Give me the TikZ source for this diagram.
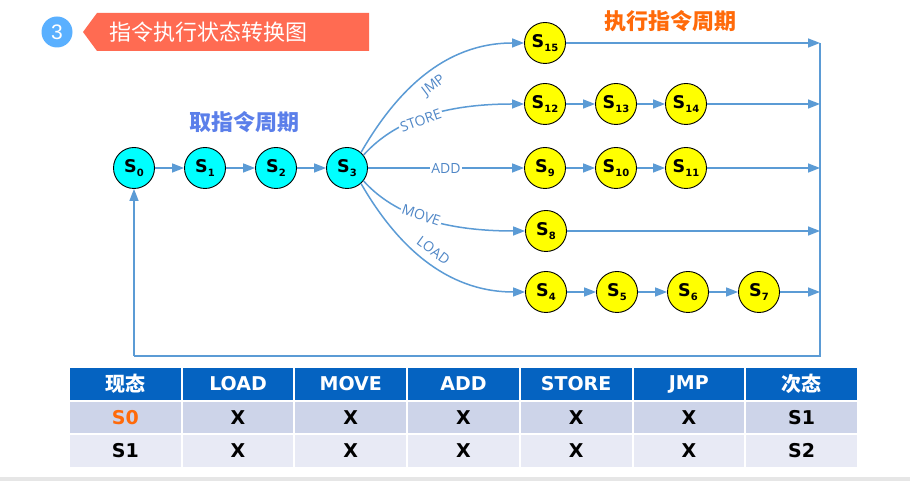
\documentclass[tikz,border=0pt]{standalone}
\usepackage{fontspec}
\usetikzlibrary{arrows.meta}
\newfontfamily\cjk{Noto Sans CJK SC}
\newfontfamily\dvs{DejaVu Sans}
\newfontfamily\osans{Open Sans}
\newfontfamily\lsans{Liberation Sans}
\definecolor{lineblue}{HTML}{5B9BD5}
\definecolor{labblue}{HTML}{4F86C6}
\definecolor{titlered}{HTML}{FF6B52}
\definecolor{numblue}{HTML}{5AB0FF}
\definecolor{cyclblue}{HTML}{5B7FEA}
\definecolor{execorange}{HTML}{FF6A0A}
\definecolor{hdrblue}{HTML}{0563C1}
\definecolor{rowa}{HTML}{CDD4E9}
\definecolor{rowb}{HTML}{E8EAF5}
\definecolor{bandgray}{HTML}{E6E6E6}
\definecolor{fetchcyan}{HTML}{00FFFF}
\definecolor{execyellow}{HTML}{FFFF00}
\newcommand{\stlab}[1]{S\raisebox{-4pt}{\fontsize{10}{10}\selectfont #1}}
\begin{document}
\begin{tikzpicture}[x=1pt,y=1pt,
  arr/.style={draw=lineblue, line width=1.5pt, -{Triangle[length=12pt,width=9pt]}},
  ln/.style={draw=lineblue, line width=1.5pt},
  snode/.style={circle, draw=black, line width=0.9pt, minimum size=41pt, inner sep=0pt,
    font=\dvs\bfseries\fontsize{17.5}{17.5}\selectfont},
  cy/.style={snode, fill=fetchcyan},
  yl/.style={snode, fill=execyellow},
  elab/.style={font=\osans\fontsize{14}{14}\selectfont, text=labblue, inner sep=1.5pt},
  cell/.style={rectangle, draw=white, line width=2pt, minimum width=112.7pt, inner sep=0pt},
  hcell/.style={cell, fill=hdrblue, minimum height=34pt, text=white},
  acell/.style={cell, fill=rowa, minimum height=33pt},
  bcell/.style={cell, fill=rowb, minimum height=34pt},
  latin/.style={font=\dvs\bfseries\fontsize{19}{19}\selectfont},
  han/.style={font=\cjk\bfseries\fontsize{20}{20}\selectfont}]
\useasboundingbox (0,0) rectangle (910,481);
\fill[white] (0,0) rectangle (910,481);
\fill[bandgray] (0,0) rectangle (910,4);

% title
\node[circle, fill=numblue, minimum size=31pt, inner sep=0pt, text=white,
  font=\lsans\fontsize{21}{21}\selectfont] (num) at (57,449) {3};
\fill[titlered] (83,449) -- (97,468) -- (369,468) -- (369,430) -- (97,430) -- cycle;
\node[anchor=west, text=white, inner sep=0pt, font=\cjk\fontsize{22}{22}\selectfont] (title) at (109,449) {指令执行状态转换图};

\node[text=cyclblue, font=\cjk\bfseries\fontsize{22}{22}\selectfont] (fetch) at (244,359) {取指令周期};
\node[text=execorange, font=\cjk\bfseries\fontsize{22}{22}\selectfont] (exec) at (670,460) {执行指令周期};

% states
\node[cy] (S0) at (134,313) {\stlab{0}};
\node[cy] (S1) at (205,313) {\stlab{1}};
\node[cy] (S2) at (276,313) {\stlab{2}};
\node[cy] (S3) at (347,313) {\stlab{3}};
\node[yl] (S15) at (545,438) {\stlab{15}};
\node[yl] (S12) at (545,377) {\stlab{12}};
\node[yl] (S13) at (616,377) {\stlab{13}};
\node[yl] (S14) at (686,377) {\stlab{14}};
\node[yl] (S9) at (545,313) {\stlab{9}};
\node[yl] (S10) at (616,313) {\stlab{10}};
\node[yl] (S11) at (686,313) {\stlab{11}};
\node[yl] (S8) at (546,250) {\stlab{8}};
\node[yl] (S4) at (546,189) {\stlab{4}};
\node[yl] (S5) at (617,189) {\stlab{5}};
\node[yl] (S6) at (688,189) {\stlab{6}};
\node[yl] (S7) at (759,189) {\stlab{7}};

\coordinate (r15) at (820,438);
\coordinate (r12) at (820,377);
\coordinate (r9) at (820,313);
\coordinate (r8) at (820,250);
\coordinate (r4) at (820,189);
\coordinate (rb) at (820,125);
\coordinate (lb) at (134,125);

% fetch chain
\draw[arr] (S0) -- (S1);
\draw[arr] (S1) -- (S2);
\draw[arr] (S2) -- (S3);

% branches
\draw[arr] (S3.48) .. controls +(60:70) and +(-80,0) .. (S15.west)
  node[elab, sloped, below, pos=0.5, yshift=-5pt] {JMP};
\draw[arr] (S3.38) .. controls +(48:40) and +(-90,0) .. (S12.west)
  node[elab, sloped, fill=white, pos=0.5, yshift=-2pt] {STORE};
\draw[arr] (S3) -- node[elab, fill=white] {ADD} (S9);
\draw[arr] (S3.-38) .. controls +(-48:40) and +(-90,0) .. (S8.west)
  node[elab, sloped, fill=white, pos=0.5, yshift=2pt] {MOVE};
\draw[arr] (S3.-48) .. controls +(-60:70) and +(-80,0) .. (S4.west)
  node[elab, sloped, above, pos=0.5, yshift=5pt] {LOAD};

% exec chains
\draw[arr] (S15) -- (r15);
\draw[arr] (S12) -- (S13);
\draw[arr] (S13) -- (S14);
\draw[arr] (S14) -- (r12);
\draw[arr] (S9) -- (S10);
\draw[arr] (S10) -- (S11);
\draw[arr] (S11) -- (r9);
\draw[arr] (S8) -- (r8);
\draw[arr] (S4) -- (S5);
\draw[arr] (S5) -- (S6);
\draw[arr] (S6) -- (S7);
\draw[arr] (S7) -- (r4);

% return path
\draw[ln] (r15) -- (rb) -- (lb);
\draw[arr] (lb) -- (S0);

% table
\node[hcell, han] (h1) at (125.35,97) {现态};
\node[hcell, latin] (h2) at (238.05,97) {LOAD};
\node[hcell, latin] (h3) at (350.75,97) {MOVE};
\node[hcell, latin] (h4) at (463.45,97) {ADD};
\node[hcell, latin] (h5) at (576.15,97) {STORE};
\node[hcell, latin] (h6) at (688.85,97) {JMP};
\node[hcell, han] (h7) at (801.55,97) {次态};

\node[acell, latin, text=execorange] (a1) at (125.35,63.5) {S0};
\node[acell, latin] (a2) at (238.05,63.5) {X};
\node[acell, latin] (a3) at (350.75,63.5) {X};
\node[acell, latin] (a4) at (463.45,63.5) {X};
\node[acell, latin] (a5) at (576.15,63.5) {X};
\node[acell, latin] (a6) at (688.85,63.5) {X};
\node[acell, latin] (a7) at (801.55,63.5) {S1};

\node[bcell, latin] (b1) at (125.35,30) {S1};
\node[bcell, latin] (b2) at (238.05,30) {X};
\node[bcell, latin] (b3) at (350.75,30) {X};
\node[bcell, latin] (b4) at (463.45,30) {X};
\node[bcell, latin] (b5) at (576.15,30) {X};
\node[bcell, latin] (b6) at (688.85,30) {X};
\node[bcell, latin] (b7) at (801.55,30) {S2};
\end{tikzpicture}
\end{document}
